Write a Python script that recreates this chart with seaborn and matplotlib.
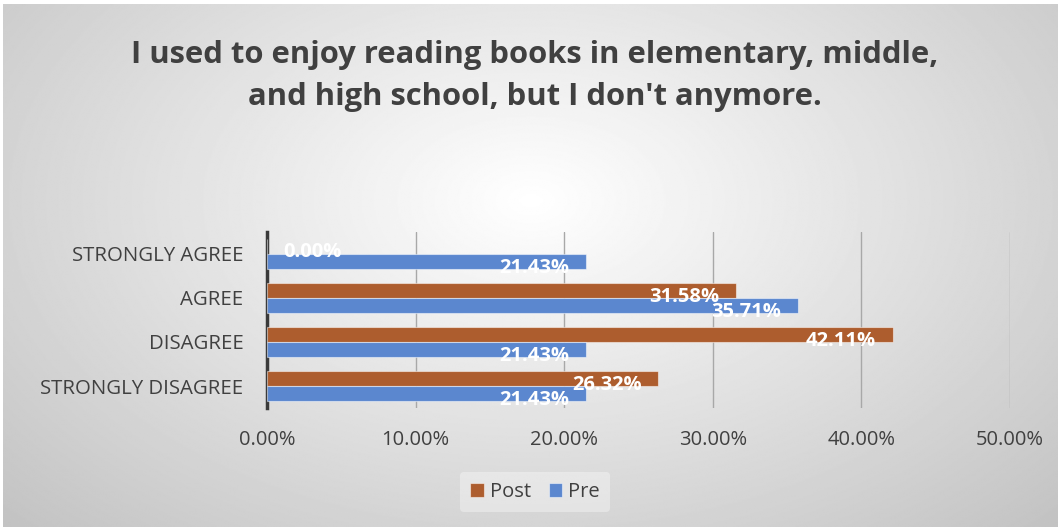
import numpy as np
import pandas as pd
import seaborn as sns
import matplotlib.pyplot as plt
from matplotlib.ticker import PercentFormatter

# values (percent)
categories = ["STRONGLY AGREE", "AGREE", "DISAGREE", "STRONGLY DISAGREE"]
post_vals = [0.00, 31.58, 42.11, 26.32]
pre_vals = [21.43, 35.71, 21.43, 21.43]
groups = ["Post", "Pre"]
title = "I used to enjoy reading books in elementary, middle,\nand high school, but I don't anymore."

df = pd.DataFrame({
    "answer": categories * 2,
    "group": ["Post"] * len(categories) + ["Pre"] * len(categories),
    "pct": post_vals + pre_vals,
})

sns.set_theme(style="white")
plt.rcParams['font.family'] = ['Open Sans', 'DejaVu Sans']
text_col = "#404040"

fig = plt.figure(figsize=(10.58, 5.27), dpi=100)
fig.patch.set_facecolor("white")

# radial gradient background of the chart area
bg = fig.add_axes([0.003, 0.0, 0.997, 0.992], zorder=0)
yy, xx = np.mgrid[0:400, 0:800]
r = np.sqrt(((xx - 400) / 490.0) ** 2 + ((yy - 150) / 310.0) ** 2)
shade = 1.0 - 0.26 * np.clip(r, 0, 1.25) / 1.25
bg.imshow(shade, cmap="gray", vmin=0, vmax=1, aspect="auto", interpolation="bilinear")
bg.set_axis_off()

ax = fig.add_axes([0.2524, 0.2258, 0.7023, 0.334], zorder=1)
ax.patch.set_alpha(0)

sns.barplot(data=df, x="pct", y="answer", hue="group", hue_order=groups,
            order=categories, orient="h", width=0.68, saturation=1,
            palette={"Post": "#AD5D2E", "Pre": "#5B87CF"},
            edgecolor=(1, 1, 1, 0.5), linewidth=0.8, ax=ax, legend=True, zorder=3)

ax.set_xlim(0, 50)
ax.set_ylim(3.5, -0.5)
ax.xaxis.set_major_formatter(PercentFormatter(decimals=2))
ax.set_xticks([0, 10, 20, 30, 40, 50])
ax.grid(axis="x", color="#a8a8a8", linewidth=1.0, zorder=0)
ax.set_xlabel("")
ax.set_ylabel("")
for s in ["top", "right", "bottom"]:
    ax.spines[s].set_visible(False)
ax.spines["left"].set_color("#3a3a3a")
ax.spines["left"].set_linewidth(2.5)
ax.tick_params(axis="x", length=0, pad=16, labelsize=14.5, labelcolor=text_col)
ax.tick_params(axis="y", length=0, pad=17, labelsize=14.7, labelcolor=text_col)

# value labels at the inside end of each bar
for cont in ax.containers:
    for patch in cont.patches:
        w = patch.get_width()
        yc = patch.get_y() + patch.get_height() / 2
        if w == 0:
            ax.annotate(f"{w:.2f}%", xy=(w, yc), xytext=(12, -4), textcoords="offset points",
                        ha="left", va="center", color="white", fontsize=14.5, fontweight="bold", zorder=4)
        else:
            ax.annotate(f"{w:.2f}%", xy=(w, yc), xytext=(-12, -5), textcoords="offset points",
                        ha="right", va="center", color="white", fontsize=14.5, fontweight="bold", zorder=4)

handles, labels = ax.get_legend_handles_labels()
ax.get_legend().remove()
leg = fig.legend(handles, labels, loc="center", bbox_to_anchor=(535 / 1058, 1 - 492 / 527),
                 ncol=2, frameon=True, fontsize=14.5, handlelength=0.65, handleheight=0.65,
                 handletextpad=0.3, columnspacing=0.9, borderpad=0.5)
leg.get_frame().set_facecolor("white")
leg.get_frame().set_alpha(0.35)
leg.get_frame().set_edgecolor("none")
for t in leg.get_texts():
    t.set_color(text_col)

fig.text(535 / 1058, 1 - 76 / 527, title, ha="center", va="center", fontsize=22.3,
         fontweight="bold", color=text_col, linespacing=1.5, zorder=2)

fig.savefig("out.png", dpi=100)
